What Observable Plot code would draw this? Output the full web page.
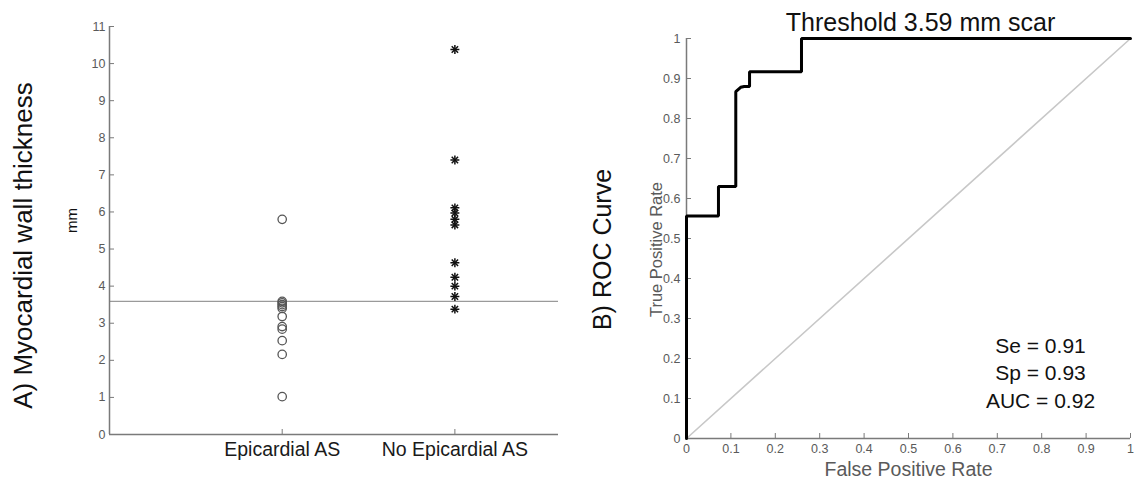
<!DOCTYPE html>
<html><head><meta charset="utf-8">
<script src="https://cdn.jsdelivr.net/npm/d3@7"></script>
<script src="https://cdn.jsdelivr.net/npm/@observablehq/plot@0.6"></script>
<style>
html,body{margin:0;padding:0;background:#fff;}
#wrap{position:relative;width:1134px;height:479px;overflow:hidden;}
#a{position:absolute;left:0;top:0;}
#b{position:absolute;left:560px;top:0;}
</style></head><body>
<div id="wrap"><div id="a"></div><div id="b"></div></div>
<script>
// ---- Panel A data ----
const groups = ["Epicardial AS", "No Epicardial AS"];
const epicardialAS = [5.80, 3.59, 3.55, 3.50, 3.45, 3.40, 3.18, 2.91, 2.84, 2.53, 2.16, 1.02];
const noEpicardialAS = [10.38, 7.40, 6.11, 5.97, 5.80, 5.65, 4.63, 4.24, 4.00, 3.72, 3.38];
const threshold = 3.59;
const thicknessTicks = [0, 1, 2, 3, 4, 5, 6, 7, 8, 9, 10, 11];
const titleA = "A) Myocardial wall thickness";
const unitA = "mm";

// ---- Panel B data ----
const fpr = [0, 0, 0.072, 0.072, 0.111, 0.111, 0.122, 0.130, 0.142, 0.142, 0.259, 0.259, 1];
const tpr = [0, 0.556, 0.556, 0.630, 0.630, 0.867, 0.878, 0.880, 0.880, 0.917, 0.917, 1.0, 1.0];
const rateTicks = [0, 0.1, 0.2, 0.3, 0.4, 0.5, 0.6, 0.7, 0.8, 0.9, 1];
const titleB = "B) ROC Curve";
const thresholdTitle = "Threshold 3.59 mm scar";
const stats = ["Se = 0.91", "Sp = 0.93", "AUC = 0.92"];
const xLabelB = "False Positive Rate";
const yLabelB = "True Positive Rate";

const font = '"Liberation Sans", Arial, Helvetica, sans-serif';
const axisGray = "#7a7a7a";
const tickText = "#5a5a5a";

const points = [
  ...epicardialAS.map(v => ({group: groups[0], value: v})),
  ...noEpicardialAS.map(v => ({group: groups[1], value: v}))
];
const gx = d => groups.indexOf(d.group) + 1;
const noEpiPts = points.filter(d => d.group === groups[1]);

const plotA = Plot.plot({
  width: 560, height: 479,
  marginLeft: 109, marginRight: 2, marginTop: 26, marginBottom: 45,
  style: {fontFamily: font, background: "white", overflow: "visible"},
  x: {domain: [0, 2.6]},
  y: {domain: [0, 11]},
  marks: [
    Plot.ruleY([threshold], {stroke: "#9a9a9a", strokeWidth: 1.3}),
    Plot.axisY(thicknessTicks, {tickSize: -5, tickPadding: 9, fontSize: 12.5, fill: tickText, stroke: axisGray, label: null}),
    Plot.axisX([1, 2], {tickSize: -5, tickPadding: 13, fontSize: 19.5, fill: "#1a1a1a", stroke: axisGray, label: null,
      tickFormat: d => groups[d - 1]}),
    Plot.ruleX([0], {stroke: axisGray, strokeWidth: 1.5}),
    Plot.ruleY([0], {stroke: axisGray, strokeWidth: 1.5}),
    Plot.dot(points.filter(d => d.group === groups[0]), {x: gx, y: "value", symbol: "circle", r: 4.2, stroke: "#555", strokeWidth: 1.3, fill: "none"}),
    Plot.dot(noEpiPts, {x: gx, y: "value", symbol: "plus", r: 3, stroke: "#111", strokeWidth: 1.5}),
    Plot.dot(noEpiPts, {x: gx, y: "value", symbol: "times", r: 3, stroke: "#111", strokeWidth: 1.5}),
    Plot.text([titleA], {frameAnchor: "left", rotate: -90, dx: -86, dy: 15, fontSize: 26, fill: "#111", textAnchor: "middle", lineAnchor: "middle"}),
    Plot.text([unitA], {frameAnchor: "left", rotate: -90, dx: -37, dy: -10, fontSize: 15, fill: "#111", textAnchor: "middle", lineAnchor: "middle"})
  ]
});
document.getElementById("a").appendChild(plotA);

const roc = fpr.map((x, i) => ({x, y: tpr[i]}));
const fmt = d => String(+d.toFixed(1));

const plotB = Plot.plot({
  width: 574, height: 479,
  marginLeft: 126, marginRight: 4, marginTop: 38, marginBottom: 41,
  style: {fontFamily: font, background: "white", overflow: "visible"},
  x: {domain: [0, 1]},
  y: {domain: [0, 1]},
  marks: [
    Plot.line([rateTicks[0], rateTicks[rateTicks.length - 1]], {x: d => d, y: d => d, stroke: "#c8c8c8", strokeWidth: 1.6}),
    Plot.axisY(rateTicks, {tickSize: -5, tickPadding: 11, fontSize: 12.5, fill: tickText, stroke: axisGray, label: null, tickFormat: fmt}),
    Plot.axisX(rateTicks, {tickSize: -5, tickPadding: 11, fontSize: 12.5, fill: tickText, stroke: axisGray, label: null, tickFormat: fmt}),
    Plot.ruleX([0], {stroke: axisGray, strokeWidth: 1.5}),
    Plot.ruleY([0], {stroke: axisGray, strokeWidth: 1.5}),
    Plot.line(roc, {x: "x", y: "y", stroke: "#000", strokeWidth: 3, strokeLinejoin: "miter", curve: "linear"}),
    Plot.text([thresholdTitle], {frameAnchor: "top", dx: 12, dy: -16, fontSize: 25, fill: "#111", textAnchor: "middle", lineAnchor: "middle"}),
    Plot.text([stats.join("\n")], {frameAnchor: "right", dx: -90, dy: 133, fontSize: 21, lineHeight: 1.33, fill: "#111", textAnchor: "middle", lineAnchor: "middle"}),
    Plot.text([yLabelB], {frameAnchor: "left", rotate: -90, dx: -30, dy: 11, fontSize: 16.5, fill: tickText, textAnchor: "middle", lineAnchor: "middle"}),
    Plot.text([titleB], {frameAnchor: "left", rotate: -90, dx: -84, dy: 11, fontSize: 25, fill: "#111", textAnchor: "middle", lineAnchor: "middle"}),
    Plot.text([xLabelB], {frameAnchor: "bottom", dy: 31, fontSize: 19.5, fill: tickText, textAnchor: "middle", lineAnchor: "middle"})
  ]
});
document.getElementById("b").appendChild(plotB);
</script>
</body></html>
